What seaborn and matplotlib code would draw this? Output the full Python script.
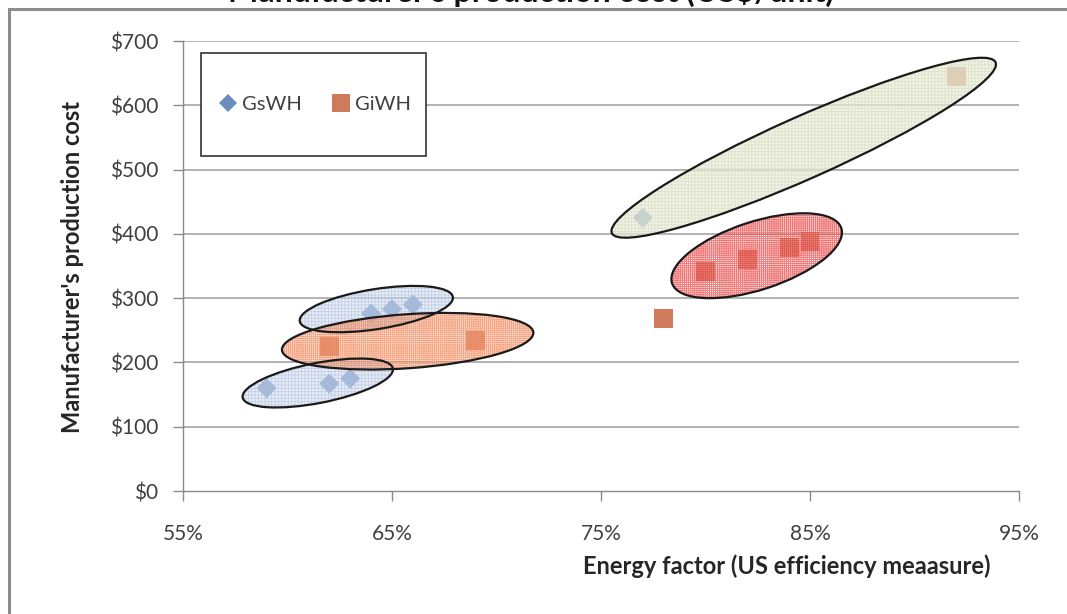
import matplotlib
matplotlib.use("Agg")
import matplotlib.pyplot as plt
import matplotlib.transforms as mtransforms
from matplotlib.patches import Ellipse, Rectangle
from matplotlib.lines import Line2D
import seaborn as sns
import pandas as pd

# Energy factor (%) and manufacturer's production cost (US$) per model
gswh_ef = [59, 62, 63, 64, 65, 66, 77]
gswh_cost = [160, 167, 175, 276, 283, 290, 425]
giwh_ef = [62, 69, 78, 80, 82, 84, 85, 92]
giwh_cost = [225, 234, 269, 341, 360, 379, 388, 645]

series_names = ["GsWH", "GiWH"]
x_ticks = [55, 65, 75, 85, 95]
y_ticks = [0, 100, 200, 300, 400, 500, 600, 700]

# Grouping outlines: centre (EF %, cost $), width/height in inches, angle,
# fill colour, hatch colour, hatch pattern, overlay opacity
groups = [
    dict(cx=64.25, cy=283, w=1.55, h=0.40, ang=9, fc="#d6dff0", hc="#a9bcdc", hatch="+++++", a=0.55),
    dict(cx=61.45, cy=168, w=1.53, h=0.40, ang=11, fc="#d6dff0", hc="#a9bcdc", hatch="+++++", a=0.55),
    dict(cx=65.75, cy=233, w=2.52, h=0.54, ang=4, fc="#fccbb4", hc="#f07a48", hatch="++++++++", a=0.45),
    dict(cx=84.70, cy=534, w=4.20, h=0.62, ang=24, fc="#eceedd", hc="#d0d8b8", hatch="+++++", a=0.7),
    dict(cx=82.45, cy=366, w=1.78, h=0.68, ang=18, fc="#f8c0c0", hc="#e62e2e", hatch="++++++++", a=0.4),
]

df = pd.DataFrame({
    "ef": gswh_ef + giwh_ef,
    "cost": gswh_cost + giwh_cost,
    "series": [series_names[0]] * len(gswh_ef) + [series_names[1]] * len(giwh_ef),
})

sns.set_style("white")
font = "Lato"
plt.rcParams["font.family"] = [font, "DejaVu Sans"]
plt.rcParams["hatch.linewidth"] = 0.6

fig = plt.figure(figsize=(10.67, 6.14), dpi=100)
ax = fig.add_axes([0.1715, 0.2003, 0.9550 - 0.1715, 0.9332 - 0.2003])

blue = "#6a8cbf"
orange = "#cf7a5c"

sns.scatterplot(
    data=df, x="ef", y="cost", hue="series", style="series", size="series",
    palette={"GsWH": blue, "GiWH": orange},
    markers={"GsWH": "D", "GiWH": "s"},
    sizes={"GsWH": 105, "GiWH": 185},
    linewidth=0, legend=False, ax=ax, zorder=3,
)

ax.set_xlim(55, 95)
ax.set_ylim(0, 700)
ax.set_xticks(x_ticks)
ax.set_yticks(y_ticks)
ax.set_xticklabels([f"{t}%" for t in x_ticks])
ax.set_yticklabels([f"${t}" for t in y_ticks])
ax.set_xlabel("")
ax.set_ylabel("")

for v in y_ticks[1:]:
    ax.axhline(v, color="#a6a6a6", lw=1.2, zorder=1)

for side in ["top", "right"]:
    ax.spines[side].set_visible(False)
for side in ["left", "bottom"]:
    ax.spines[side].set_color("#8a8a8a")
    ax.spines[side].set_linewidth(1.0)

ax.tick_params(axis="y", which="major", direction="out", length=7, width=1,
               color="#8a8a8a", labelsize=15, labelcolor="#404040", pad=11, left=True)
ax.tick_params(axis="x", which="major", direction="out", length=7, width=1,
               color="#8a8a8a", labelsize=15, labelcolor="#404040", pad=17, bottom=True)

# Grouping ellipses drawn over the markers
for g in groups:
    trans = fig.dpi_scale_trans + mtransforms.ScaledTranslation(g["cx"], g["cy"], ax.transData)
    ax.add_patch(Ellipse((0, 0), g["w"], g["h"], angle=g["ang"], transform=trans,
                         facecolor=g["fc"], edgecolor="none", alpha=g["a"], zorder=4))
    ax.add_patch(Ellipse((0, 0), g["w"], g["h"], angle=g["ang"], transform=trans,
                         facecolor="none", edgecolor=g["hc"], hatch=g["hatch"],
                         linewidth=0, alpha=0.6, zorder=5))
    ax.add_patch(Ellipse((0, 0), g["w"], g["h"], angle=g["ang"], transform=trans,
                         facecolor="none", edgecolor="#1a1a1a", linewidth=1.6, zorder=6))

# Legend in its own box
ax.add_patch(Rectangle((0.0215, 0.745), 0.269, 0.229, transform=ax.transAxes,
                       facecolor="white", edgecolor="#333333", lw=1.2, zorder=7))
handles = [
    Line2D([], [], ls="none", marker="D", markersize=9.5, color=blue, markeredgewidth=0),
    Line2D([], [], ls="none", marker="s", markersize=12.5, color=orange, markeredgewidth=0),
]
leg = ax.legend(handles, series_names, loc="center left", bbox_to_anchor=(0.035, 0.86),
                ncol=2, frameon=False, fontsize=14.5, handlelength=0.8, handletextpad=0.3,
                columnspacing=1.5, borderaxespad=0)
leg.set_zorder(8)
for t in leg.get_texts():
    t.set_color("#404040")

fig.text(0.7375, 0.078, "Energy factor (US efficiency meaasure)", ha="center", va="center",
         fontsize=17, fontweight="bold", color="#262626")
fig.text(0.0675, 0.565, "Manufacturer's production cost", ha="center", va="center",
         rotation=90, fontsize=17, fontweight="bold", color="#262626")
fig.text(0.4975, 1 - 2 / 614, "Manufacturer's production cost (US$/unit)", ha="center",
         va="baseline", fontsize=23, fontweight="bold", color="#111111")

# Outer chart frame
fig.add_artist(Rectangle((9 / 1067, -0.05), 1.2, 1 - 9 / 614 + 0.05, transform=fig.transFigure,
                         facecolor="none", edgecolor="#8c8c8c", lw=2.2, zorder=0))

fig.savefig("out.png", dpi=100)
